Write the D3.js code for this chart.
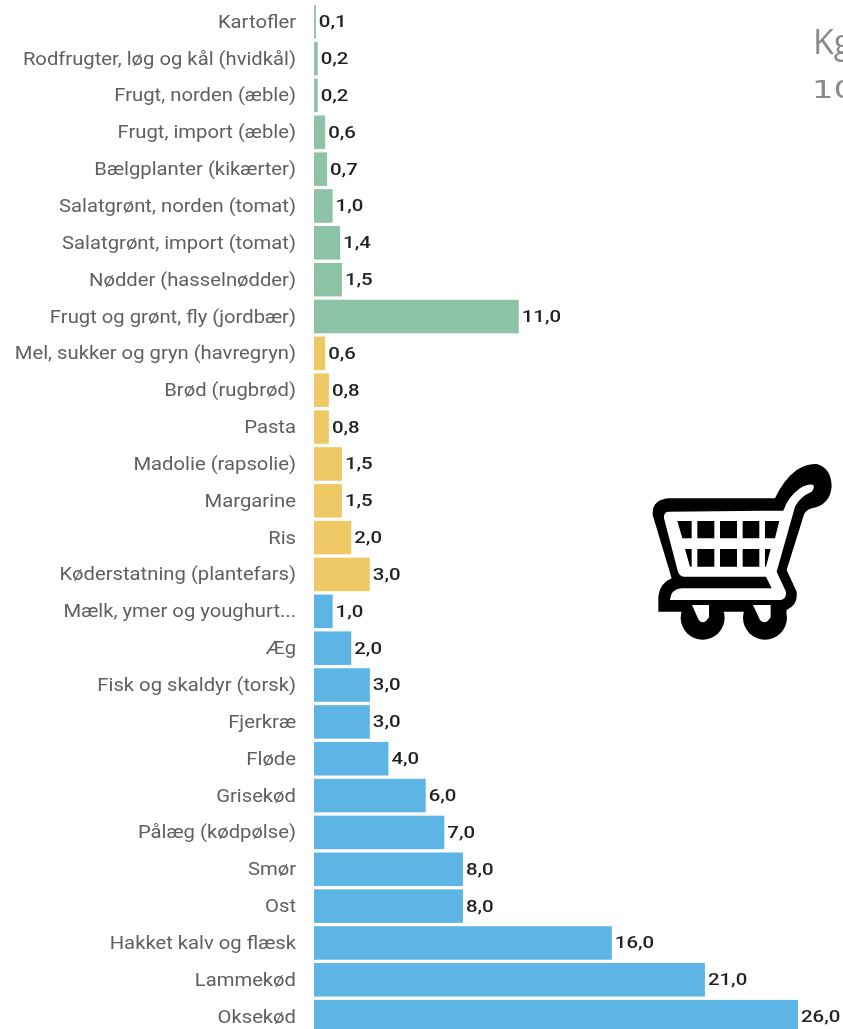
<!DOCTYPE html>
<html>
<head>
<meta charset="utf-8">
<script src="https://d3js.org/d3.v7.min.js"></script>
<style>
  html, body { margin: 0; padding: 0; background: #fff; overflow: hidden; }
  text { font-family: Roboto, sans-serif; }
  /* the reference is a soft, upscaled picture */
  svg { filter: blur(0.5px); }
</style>
</head>
<body>
<div id="chart"></div>
<script>
// categories and values, top to bottom
var categories = [
  "Kartofler", "Rodfrugter, løg og kål (hvidkål)", "Frugt, norden (æble)", "Frugt, import (æble)",
  "Bælgplanter (kikærter)", "Salatgrønt, norden (tomat)", "Salatgrønt, import (tomat)",
  "Nødder (hasselnødder)", "Frugt og grønt, fly (jordbær)",
  "Mel, sukker og gryn (havregryn)", "Brød (rugbrød)", "Pasta", "Madolie (rapsolie)", "Margarine",
  "Ris", "Køderstatning (plantefars)",
  "Mælk, ymer og youghurt...", "Æg", "Fisk og skaldyr (torsk)", "Fjerkræ", "Fløde", "Grisekød",
  "Pålæg (kødpølse)", "Smør", "Ost", "Hakket kalv og flæsk", "Lammekød", "Oksekød"
];
var values = [
  0.1, 0.2, 0.2, 0.6, 0.7, 1.0, 1.4, 1.5, 11.0,
  0.6, 0.8, 0.8, 1.5, 1.5, 2.0, 3.0,
  1.0, 2.0, 3.0, 3.0, 4.0, 6.0, 7.0, 8.0, 8.0, 16.0, 21.0, 26.0
];
var groups = [
  "g", "g", "g", "g", "g", "g", "g", "g", "g",
  "y", "y", "y", "y", "y", "y", "y",
  "b", "b", "b", "b", "b", "b", "b", "b", "b", "b", "b", "b"
];
var groupColors = { g: "#8cc3a6", y: "#f0c967", b: "#5db5e5" };

var width = 843, height = 1029;

var svg = d3.select("#chart").append("svg")
  .attr("width", width)
  .attr("height", height)
  .style("display", "block");

var x = d3.scaleLinear().domain([0, 26]).range([314, 798]);
var y = d3.scaleBand().domain(categories).range([3.3, 1035.1]).paddingInner(0.09).paddingOuter(0.045);

var rows = svg.selectAll("g.row")
  .data(categories)
  .enter().append("g")
  .attr("class", "row");

rows.append("rect")
  .attr("x", x(0))
  .attr("y", function(d) { return y(d); })
  .attr("width", function(d, i) { return x(values[i]) - x(0); })
  .attr("height", y.bandwidth())
  .attr("fill", function(d, i) { return groupColors[groups[i]]; });

// category labels, glyphs are wider than plain Roboto in the reference
rows.append("text")
  .attr("transform", function(d) { return "translate(296," + (y(d) + y.bandwidth() / 2 - 0.3) + ") scale(1.125,1)"; })
  .attr("dy", "0.35em")
  .attr("text-anchor", "end")
  .attr("font-size", 18)
  .attr("fill", "#5f5f5f")
  .text(function(d) { return d; });

// value labels
rows.append("text")
  .attr("transform", function(d, i) { return "translate(" + (x(values[i]) + 3) + "," + (y(d) + y.bandwidth() / 2 - 0.5) + ") scale(1.2,1)"; })
  .attr("dy", "0.35em")
  .attr("font-size", 17)
  .attr("font-weight", 500)
  .attr("fill", "#222")
  .text(function(d, i) { return d3.format(".1f")(values[i]).replace(".", ","); });

// title, cut by the right edge of the picture as in the reference
svg.append("text")
  .attr("x", 813).attr("y", 54)
  .attr("font-size", 34)
  .attr("fill", "#8a8a8a")
  .style("font-family", "'Open Sans', sans-serif")
  .text("Kg");
svg.append("text")
  .attr("transform", "translate(812,98) scale(1.35,1)")
  .attr("font-size", 25)
  .attr("fill", "#8a8a8a")
  .style("font-family", "'DejaVu Sans', sans-serif")
  .text("10");

// shopping cart icon
var cart = svg.append("g").attr("transform", "translate(640,450) scale(0.3333)");
cart.append("path").attr("fill", "#000")
  .attr("d", "M55,485 L55,440 Q58,400 95,385 L38,195 Q35,150 85,145 L405,145 Q430,90 470,60 Q500,40 530,42 Q575,55 575,110 Q570,165 515,175 Q495,180 490,200 L440,360 L470,425 Q475,465 440,480 L440,485 L55,485 Z");
cart.append("circle").attr("cx", 188).attr("cy", 503).attr("r", 66).attr("fill", "#000");
cart.append("circle").attr("cx", 375).attr("cy", 503).attr("r", 66).attr("fill", "#000");
cart.append("path").attr("fill", "#fff")
  .attr("d", "M85,185 L430,182 Q445,140 480,115 Q505,100 520,105 Q525,115 515,125 Q480,140 465,170 L410,365 L438,425 Q440,450 420,450 L90,450 Q92,418 125,415 L395,415 L378,380 L130,380 Q118,378 113,362 L72,205 Q70,187 85,185 Z");
cart.append("path").attr("fill", "#fff")
  .attr("d", "M156,465 L207,465 L207,502 Q192,527 176,510 Z M339,465 L392,465 L392,502 Q377,527 360,510 Z");
cart.append("path").attr("fill", "#000")
  .attr("d", "M112,213 L155,213 L155,265 L127,265 Z M172,213 H223 V265 H172 Z M240,213 H291 V265 H240 Z M308,213 H358 V265 H308 Z M375,213 L418,213 L405,265 L375,265 Z M135,297 L155,297 L155,350 L150,350 Z M172,297 H223 V350 H172 Z M240,297 H291 V350 H240 Z M308,297 H358 V350 H308 Z M375,297 L392,297 L378,350 L375,350 Z");
</script>
</body>
</html>
